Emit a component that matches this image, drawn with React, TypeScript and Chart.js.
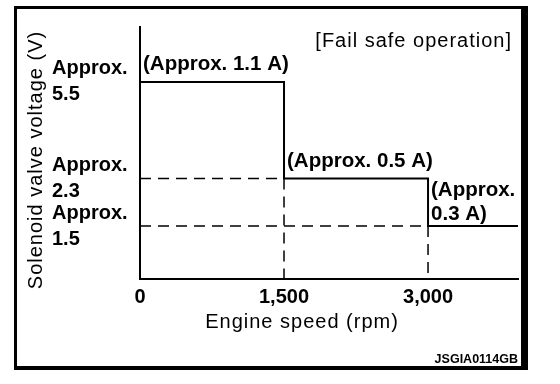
import React, { useEffect, useRef } from 'react';
import { Chart, registerables } from 'chart.js';

Chart.register(...registerables);

// ---- data ----
const rpmBreaks = [0, 1500, 3000, 3937];
const voltages = [5.5, 2.3, 1.5, 1.5];
const currents = [1.1, 0.5, 0.3];
const xTickValues = [0, 1500, 3000];
const yTickValues = [1.5, 2.3, 5.5];
const X_MAX = 3937;
const Y_MIN = 0.93;
const Y_MAX = 9.03;
const xTitle = 'Engine speed (rpm)';
const yTitle = 'Solenoid valve voltage (V)';
const modeLabel = '[Fail safe operation]';
const figureCode = 'JSGIA0114GB';

const FONT = "'Liberation Sans', Arial, Helvetica, sans-serif";

const decorPlugin = {
  id: 'decor',
  beforeDraw(chart: any) {
    const { ctx, width, height } = chart;
    ctx.save();
    ctx.fillStyle = '#fff';
    ctx.fillRect(0, 0, width, height);
    ctx.restore();
  },
  afterDraw(chart: any) {
    const { ctx, scales } = chart;
    const xs = scales.x;
    const ys = scales.y;
    ctx.save();
    ctx.fillStyle = '#000';

    // frame
    ctx.fillRect(14, 6, 3, 364);
    ctx.fillRect(14, 6, 514, 3);
    ctx.fillRect(521, 6, 7, 364);
    ctx.fillRect(14, 366, 514, 4);

    // current annotations
    ctx.font = `bold 20.5px ${FONT}`;
    ctx.textAlign = 'left';
    ctx.textBaseline = 'alphabetic';
    currents.forEach((c, i) => {
      const px = xs.getPixelForValue(rpmBreaks[i]) + 3;
      const py = ys.getPixelForValue(voltages[i]);
      const isLast = i === currents.length - 1;
      const lines = isLast ? ['(Approx.', `${c} A)`] : [`(Approx. ${c} A)`];
      const bottomOffset = isLast ? 6 : 12;
      lines.forEach((t, j) => {
        ctx.fillText(t, px, py - bottomOffset - (lines.length - 1 - j) * 24);
      });
    });

    // regular texts
    ctx.font = `20px ${FONT}`;
    try { (ctx as any).letterSpacing = '1px'; } catch (e) {}
    ctx.textAlign = 'right';
    ctx.fillText(modeLabel, 512, 47);

    ctx.textAlign = 'center';
    ctx.fillText(xTitle, 302, 328);

    ctx.save();
    ctx.translate(42, 160);
    ctx.rotate(-Math.PI / 2);
    ctx.textAlign = 'center';
    ctx.fillText(yTitle, 0, 0);
    ctx.restore();

    try { (ctx as any).letterSpacing = '0px'; } catch (e) {}
    ctx.font = `bold 12.5px ${FONT}`;
    ctx.textAlign = 'right';
    ctx.fillText(figureCode, 518, 363);
    ctx.restore();
  },
};

export default function App() {
  const ref = useRef<HTMLCanvasElement>(null);

  useEffect(() => {
    if (!ref.current) return;
    const stepData = rpmBreaks.map((x, i) => ({ x, y: voltages[i] }));
    const guideSets = [1, 2].map((i) => ({
      data: [
        { x: rpmBreaks[0], y: voltages[i] },
        { x: rpmBreaks[i], y: voltages[i] },
        { x: rpmBreaks[i], y: Y_MIN },
      ],
      borderColor: '#000',
      borderWidth: 1.5,
      borderDash: [11, 7],
      pointRadius: 0,
      fill: false,
    }));

    const chart = new Chart(ref.current, {
      type: 'line',
      data: {
        datasets: [
          ...guideSets,
          {
            data: stepData,
            stepped: 'before',
            borderColor: '#000',
            borderWidth: 2,
            pointRadius: 0,
            fill: false,
          },
        ] as any,
      },
      options: {
        responsive: false,
        animation: false,
        devicePixelRatio: 1,
        layout: { padding: { left: 52, right: 42, top: 27, bottom: 75 } },
        plugins: {
          legend: { display: false },
          tooltip: { enabled: false },
        },
        scales: {
          x: {
            type: 'linear',
            min: 0,
            max: X_MAX,
            bounds: 'data',
            grid: { display: false, drawTicks: false },
            border: { display: true, color: '#000', width: 2 },
            afterBuildTicks: (axis: any) => {
              axis.ticks = xTickValues.map((v) => ({ value: v }));
            },
            afterFit: (axis: any) => {
              axis.height = 30;
            },
            ticks: {
              color: '#000',
              font: { family: FONT, size: 20, weight: 'bold' },
              padding: 6,
              maxRotation: 0,
              autoSkip: false,
              callback: (v: any) => Number(v).toLocaleString('en-US'),
            },
          },
          y: {
            type: 'logarithmic',
            min: Y_MIN,
            max: Y_MAX,
            bounds: 'data',
            grid: { display: false, drawTicks: false },
            border: { display: true, color: '#000', width: 2 },
            afterBuildTicks: (axis: any) => {
              axis.ticks = yTickValues.map((v) => ({ value: v }));
            },
            afterFit: (axis: any) => {
              axis.width = 88;
            },
            ticks: {
              color: '#000',
              crossAlign: 'far',
              padding: 0,
              autoSkip: false,
              font: { family: FONT, size: 20, weight: 'bold', lineHeight: 1.3 },
              callback: (v: any) => ['Approx.', String(v)],
            },
          },
        } as any,
      },
      plugins: [decorPlugin],
    });
    return () => chart.destroy();
  }, []);

  return (
    <div style={{ position: 'absolute', left: 0, top: 0, width: 560, height: 384 }}>
      <canvas ref={ref} width={560} height={384} style={{ display: 'block', width: 560, height: 384 }} />
    </div>
  );
}
